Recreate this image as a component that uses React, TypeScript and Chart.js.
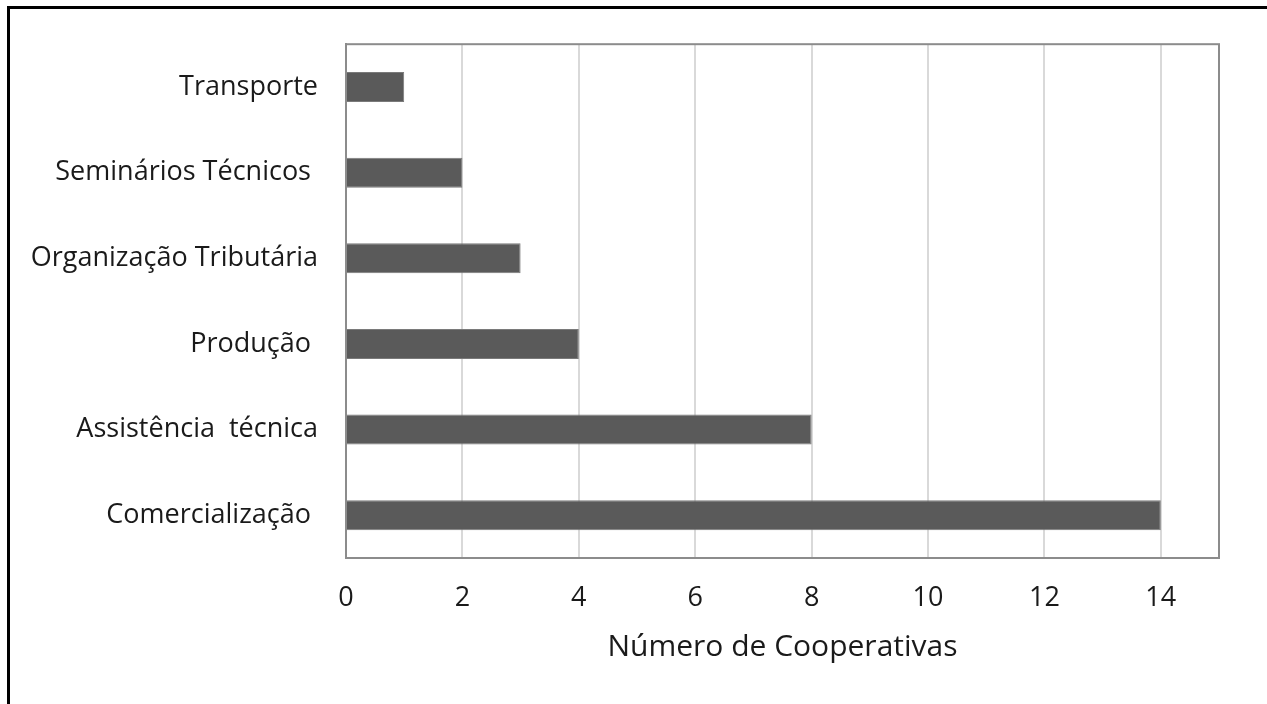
import React, { useEffect, useRef } from "react";
import { Chart, registerables } from "chart.js";

Chart.register(...registerables);

const categories = [
  "Transporte",
  "Seminários Técnicos ",
  "Organização Tributária",
  "Produção ",
  "Assistência  técnica",
  "Comercialização ",
];
const values = [1, 2, 3, 4, 8, 14];
const xTickValues = [0, 2, 4, 6, 8, 10, 12, 14];
const xAxisTitle = "Número de Cooperativas";

const FONT = "'Open Sans', 'Noto Sans', sans-serif";

export default function App() {
  const ref = useRef<HTMLCanvasElement | null>(null);

  useEffect(() => {
    if (!ref.current) return;
    const chart = new Chart(ref.current, {
      type: "bar",
      data: {
        labels: categories,
        datasets: [
          {
            data: values,
            backgroundColor: "#5a5a5a",
            borderColor: "#7a7a7a",
            borderWidth: 1,
            categoryPercentage: 1,
            barPercentage: 0.35,
          },
        ],
      },
      options: {
        indexAxis: "y",
        animation: false,
        responsive: false,
        maintainAspectRatio: false,
        layout: { padding: { left: 0, right: 48, top: 42, bottom: 0 } },
        plugins: {
          legend: { display: false },
          tooltip: { enabled: false },
        },
        scales: {
          x: {
            min: 0,
            max: 15,
            afterBuildTicks: (scale: any) => {
              scale.ticks = xTickValues.map((v) => ({ value: v }));
            },
            afterFit: (scale: any) => {
              scale.height = 704 - 558;
            },
            grid: {
              color: "#d9d9d9",
              lineWidth: 2,
              drawTicks: false,
            },
            border: { display: true, color: "#8c8c8c", width: 2 },
            ticks: {
              color: "#1a1a1a",
              padding: 24,
              maxRotation: 0,
              font: { family: FONT, size: 27 },
            },
            title: {
              display: true,
              text: xAxisTitle,
              color: "#1a1a1a",
              font: { family: FONT, size: 30 },
              padding: { top: 0, bottom: 39 },
            },
          },
          y: {
            afterFit: (scale: any) => {
              scale.width = 346;
            },
            grid: { display: false, drawTicks: false },
            border: { display: true, color: "#8c8c8c", width: 2 },
            ticks: {
              color: "#1a1a1a",
              padding: 28,
              font: { family: FONT, size: 27 },
            },
          },
        },
      },
      plugins: [
        {
          id: "frame",
          afterDraw: (c: any) => {
            const { ctx, chartArea } = c;
            ctx.save();
            ctx.strokeStyle = "#8c8c8c";
            ctx.lineWidth = 2;
            ctx.strokeRect(
              chartArea.left,
              chartArea.top,
              chartArea.right - chartArea.left,
              chartArea.bottom - chartArea.top
            );
            ctx.restore();
          },
        },
      ],
    });
    return () => chart.destroy();
  }, []);

  return (
    <div
      style={{
        position: "fixed",
        left: 0,
        top: 0,
        width: 1267,
        height: 704,
        background: "#ffffff",
        overflow: "hidden",
      }}
    >
      <canvas
        ref={ref}
        width={1267}
        height={704}
        style={{ position: "absolute", left: 0, top: 0 }}
      />
      <div
        style={{
          position: "absolute",
          left: 7,
          top: 6,
          width: 1300,
          height: 760,
          borderLeft: "3px solid #000",
          borderTop: "3px solid #000",
          pointerEvents: "none",
        }}
      />
    </div>
  );
}
